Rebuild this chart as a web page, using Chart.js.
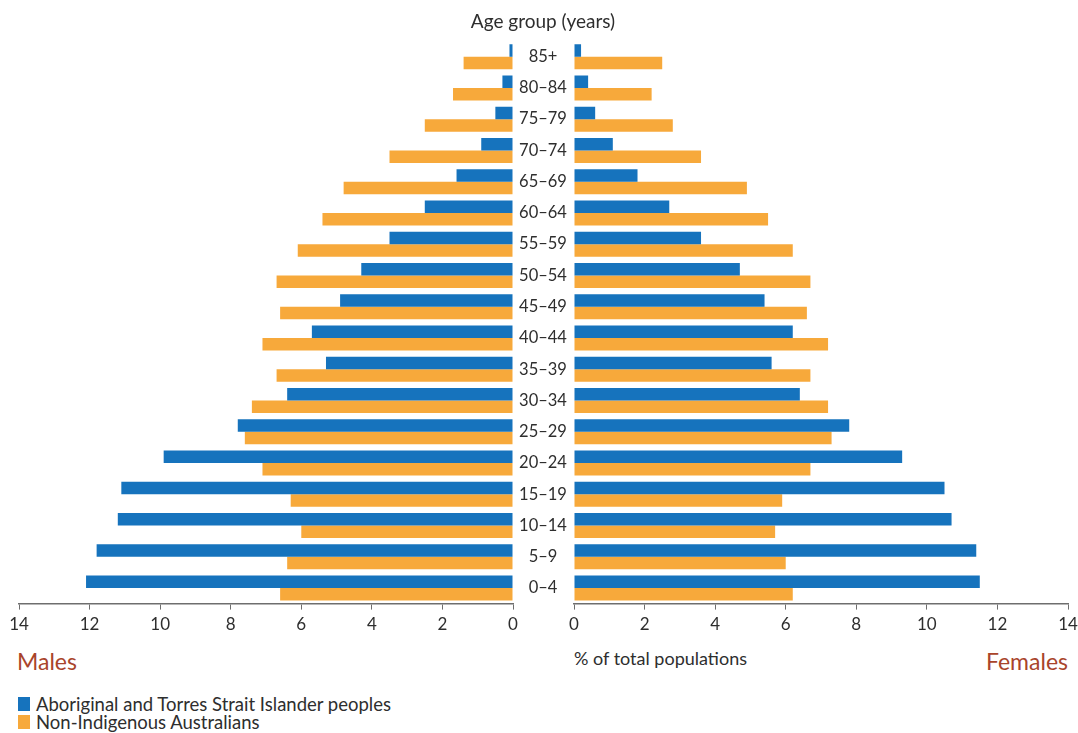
<!DOCTYPE html>
<html>
<head>
<meta charset="utf-8">
<script src="https://cdn.jsdelivr.net/npm/chart.js@4"></script>
<style>
  body { margin: 0; background: #fff; width: 1078px; height: 733px; position: relative; overflow: hidden; font-family: Lato, sans-serif; color: #2e2e2e; }
  .box { position: absolute; top: 0; height: 640px; }
  #boxL { left: 0; width: 530px; }
  #boxR { left: 500px; width: 600px; }
  .txt { position: absolute; white-space: nowrap; line-height: 1.2; }
  .key { position: absolute; left: 18px; width: 12px; height: 14px; }
</style>
</head>
<body>
<div class="box" id="boxL"><canvas id="chartMales"></canvas></div>
<div class="box" id="boxR"><canvas id="chartFemales"></canvas></div>

<div class="txt" style="left:443px;width:200px;text-align:center;top:10px;font-size:19px;">Age group (years)</div>
<div class="txt" style="left:17px;top:648px;font-size:23px;color:#a9442b;">Males</div>
<div class="txt" style="left:574px;top:648px;font-size:18px;">% of total populations</div>
<div class="txt" style="right:10px;top:648px;font-size:23px;color:#a9442b;">Females</div>
<div class="key" style="top:697px;background:#1673bd;"></div>
<div class="txt" style="left:36px;top:693px;font-size:18.5px;">Aboriginal and Torres Strait Islander peoples</div>
<div class="key" style="top:715px;background:#f7a93b;"></div>
<div class="txt" style="left:36px;top:711px;font-size:18.5px;">Non-Indigenous Australians</div>

<script>
  const ageGroups = ['85+', '80–84', '75–79', '70–74', '65–69', '60–64', '55–59', '50–54', '45–49',
                     '40–44', '35–39', '30–34', '25–29', '20–24', '15–19', '10–14', '5–9', '0–4'];

  const malesIndig  = [0.1, 0.3, 0.5, 0.9, 1.6, 2.5, 3.5, 4.3, 4.9, 5.7, 5.3, 6.4, 7.8, 9.9, 11.1, 11.2, 11.8, 12.1];
  const malesNonInd = [1.4, 1.7, 2.5, 3.5, 4.8, 5.4, 6.1, 6.7, 6.6, 7.1, 6.7, 7.4, 7.6, 7.1, 6.3, 6.0, 6.4, 6.6];
  const femIndig    = [0.2, 0.4, 0.6, 1.1, 1.8, 2.7, 3.6, 4.7, 5.4, 6.2, 5.6, 6.4, 7.8, 9.3, 10.5, 10.7, 11.4, 11.5];
  const femNonInd   = [2.5, 2.2, 2.8, 3.6, 4.9, 5.5, 6.2, 6.7, 6.6, 7.2, 6.7, 7.2, 7.3, 6.7, 5.9, 5.7, 6.0, 6.2];

  const blue   = '#1673bd';
  const orange = '#f7a93b';
  const axisCol = '#6e6e6e';
  const fontTick = { family: 'Lato', size: 17 };
  const fontAge  = { family: 'Lato', size: 16.5 };

  // width of widest age label, to centre labels in the gap
  const mctx = document.createElement('canvas').getContext('2d');
  mctx.font = '16.5px Lato';
  const widest = Math.max(...ageGroups.map(s => mctx.measureText(s).width));

  const bars = (a, b) => [
      { label: 'Aboriginal and Torres Strait Islander peoples', data: a, backgroundColor: blue,
        categoryPercentage: 0.8, barPercentage: 1.0 },
      { label: 'Non-Indigenous Australians', data: b, backgroundColor: orange,
        categoryPercentage: 0.8, barPercentage: 1.0 }
  ];

  const xAxis = (rev) => ({
      min: 0, max: 14, reverse: rev,
      ticks: { stepSize: 2, color: '#2e2e2e', font: fontTick, padding: 5 },
      grid: { drawOnChartArea: false, drawTicks: true, tickLength: 6, color: axisCol },
      border: { color: axisCol, width: 1.5 }
  });

  new Chart(document.getElementById('chartMales'), {
      type: 'bar',
      data: { labels: ageGroups, datasets: bars(malesIndig, malesNonInd) },
      options: {
          indexAxis: 'y',
          responsive: true,
          maintainAspectRatio: false,
          animation: false,
          layout: { padding: { top: 41, left: 19, right: 17, bottom: 0 } },
          plugins: { legend: { display: false }, tooltip: { enabled: false } },
          scales: {
              x: xAxis(true),
              y: { display: false }
          }
      }
  });

  new Chart(document.getElementById('chartFemales'), {
      type: 'bar',
      data: { labels: ageGroups, datasets: bars(femIndig, femNonInd) },
      options: {
          indexAxis: 'y',
          responsive: true,
          maintainAspectRatio: false,
          animation: false,
          layout: { padding: { top: 41, left: 0, right: 32, bottom: 0 } },
          plugins: { legend: { display: false }, tooltip: { enabled: false } },
          scales: {
              x: xAxis(false),
              y: {
                  position: 'left',
                  grid: { display: false, drawTicks: false },
                  border: { display: false },
                  ticks: { color: '#2e2e2e', font: fontAge, crossAlign: 'center',
                           padding: 31 - widest / 2 },
                  afterFit: (s) => { s.width = 74; }
              }
          }
      }
  });
</script>
</body>
</html>
